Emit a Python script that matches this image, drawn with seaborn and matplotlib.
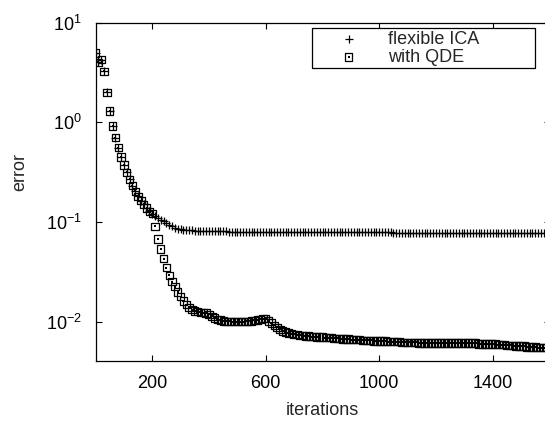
import numpy as np
import pandas as pd
import matplotlib
matplotlib.use('Agg')
import matplotlib.pyplot as plt
import seaborn as sns
from matplotlib.legend_handler import HandlerTuple

# iterations sampled every 10 steps
iterations = list(range(0, 1601, 10))

head = [4.95, 4.0, 4.25, 3.24, 2.0, 1.30, 0.92, 0.70, 0.557, 0.45,
        0.374, 0.316, 0.268, 0.232, 0.204, 0.181, 0.164, 0.150, 0.138, 0.128,
        0.121]

flexible_ica = head + [
    0.115, 0.110, 0.106, 0.102, 0.098, 0.094, 0.091, 0.088, 0.086, 0.0845,
    0.0835, 0.0830, 0.0826, 0.0823, 0.0820, 0.0818, 0.0816, 0.0814, 0.0812, 0.0810,
    0.0809, 0.0808, 0.0807, 0.0806, 0.0805, 0.0804, 0.0803, 0.0802, 0.0801, 0.0800,
    0.0800, 0.0799, 0.0799, 0.0798, 0.0798, 0.0797, 0.0797, 0.0796, 0.0796, 0.0795,
    0.0795, 0.0795, 0.0794, 0.0794, 0.0794, 0.0793, 0.0793, 0.0793, 0.0792, 0.0792,
    0.0792, 0.0792, 0.0791, 0.0791, 0.0791, 0.0791, 0.0790, 0.0790, 0.0790, 0.0790,
    0.0790, 0.0789, 0.0789, 0.0789, 0.0789, 0.0789, 0.0788, 0.0788, 0.0788, 0.0788,
    0.0788, 0.0788, 0.0787, 0.0787, 0.0787, 0.0787, 0.0787, 0.0787, 0.0786, 0.0786,
    0.0786, 0.0786, 0.0786, 0.0786, 0.0785, 0.0785, 0.0785, 0.0785, 0.0785, 0.0785,
    0.0785, 0.0785, 0.0784, 0.0784, 0.0784, 0.0784, 0.0784, 0.0784, 0.0784, 0.0784,
    0.0784, 0.0783, 0.0783, 0.0783, 0.0783, 0.0783, 0.0783, 0.0783, 0.0783, 0.0783,
    0.0783, 0.0783, 0.0783, 0.0783, 0.0783, 0.0783, 0.0783, 0.0783, 0.0783, 0.0783,
    0.0783, 0.0783, 0.0783, 0.0783, 0.0782, 0.0782, 0.0782, 0.0782, 0.0782, 0.0782,
    0.0782, 0.0782, 0.0782, 0.0782, 0.0782, 0.0782, 0.0782, 0.0782, 0.0782, 0.0782,
]

with_qde = head + [
    0.0909, 0.0678, 0.0538, 0.0428, 0.0348, 0.0291, 0.0252, 0.0224, 0.0198, 0.0178,
    0.0161, 0.0148, 0.0139, 0.0132, 0.0128, 0.0126, 0.0124, 0.0123, 0.0122, 0.0119,
    0.0113, 0.0109, 0.0106, 0.0104, 0.0102, 0.0101, 0.0101, 0.0100, 0.0100, 0.0100,
    0.0100, 0.0100, 0.0101, 0.0101, 0.0102, 0.0103, 0.0104, 0.0106, 0.0107, 0.0107,
    0.0102, 0.0097, 0.0092, 0.0088, 0.0084, 0.0081, 0.0079, 0.0077, 0.0076, 0.0075,
    0.0074, 0.0073, 0.0073, 0.0072, 0.0072, 0.0071, 0.0071, 0.0070, 0.0070, 0.0070,
    0.0069, 0.0069, 0.0069, 0.0068, 0.0068, 0.0068, 0.0067, 0.0067, 0.0067, 0.0066,
    0.0066, 0.0066, 0.0066, 0.0065, 0.0065, 0.0065, 0.0065, 0.0064, 0.0064, 0.0064,
    0.0064, 0.0064, 0.0063, 0.0063, 0.0063, 0.0063, 0.0063, 0.0062, 0.0062, 0.0062,
    0.0062, 0.0062, 0.0062, 0.0061, 0.0061, 0.0061, 0.0061, 0.0061, 0.0061, 0.0061,
    0.0061, 0.0061, 0.0061, 0.0061, 0.0061, 0.0061, 0.0061, 0.0061, 0.0061, 0.0061,
    0.0061, 0.0061, 0.0061, 0.0061, 0.0060, 0.0060, 0.0060, 0.0060, 0.0060, 0.0060,
    0.0060, 0.0059, 0.0059, 0.0059, 0.0058, 0.0058, 0.0058, 0.0057, 0.0057, 0.0057,
    0.0057, 0.0056, 0.0056, 0.0056, 0.0056, 0.0055, 0.0055, 0.0055, 0.0055, 0.0054,
]

xticks = [200, 600, 1000, 1400]
yticks = [1e-2, 1e-1, 1e0, 1e1]
ytick_labels = ['$10^{-2}$', '$10^{-1}$', '$10^{0}$', '$10^{1}$']

df = pd.DataFrame({'iterations': iterations, 'ica': flexible_ica, 'qde': with_qde})

sns.set_theme(style='ticks')
plt.rcParams['font.family'] = ['Liberation Sans', 'DejaVu Sans']
plt.rcParams['mathtext.default'] = 'regular'

fig = plt.figure(figsize=(5.45, 4.21), dpi=100)
# right spine falls just outside the image, as in the original
ax = fig.add_axes([95.5 / 545, 60 / 421, 454 / 545, 338.3 / 421])

sns.scatterplot(data=df, x='iterations', y='qde', marker='s', s=28,
                facecolor='none', edgecolor='black', linewidth=0.9, ax=ax)
sns.scatterplot(data=df, x='iterations', y='qde', marker='s', s=1.2,
                color='black', linewidth=0, ax=ax)
sns.scatterplot(data=df, x='iterations', y='ica', marker='+', s=28,
                color='black', linewidth=0.9, ax=ax)

ax.set_yscale('log')
ax.set_xlim(0, 1600)
ax.set_ylim(10 ** -2.394, 10)
ax.set_xticks(xticks)
ax.set_xticklabels([str(t) for t in xticks])
ax.set_yticks(yticks)
ax.set_yticklabels(ytick_labels)
ax.minorticks_off()
ax.tick_params(direction='in', length=4.5, width=0.8, labelsize=13,
               top=True, right=True, colors='black')
ax.tick_params(axis='x', pad=10)
ax.tick_params(axis='y', pad=10)
for sp in ax.spines.values():
    sp.set_color('black')
    sp.set_linewidth(0.9)

ax.set_xlabel('iterations', fontsize=13)
ax.set_ylabel('error', fontsize=13)
ax.xaxis.set_label_coords(0.5, -0.122)
ax.yaxis.set_label_coords(-0.148, 0.56)

cols = ax.collections
legend = ax.legend([cols[2], (cols[0], cols[1])], ['flexible ICA', 'with QDE'],
                   handler_map={tuple: HandlerTuple(ndivide=1)},
                   loc='lower left', bbox_to_anchor=(0.476, 0.865, 0.492, 0.12),
                   mode='expand', borderaxespad=0, borderpad=0.15,
                   handlelength=3.8, handletextpad=0.3, labelspacing=0.05,
                   fontsize=13, fancybox=False, framealpha=1, edgecolor='black')
legend.get_frame().set_linewidth(0.9)

fig.savefig('out.png', dpi=100)
